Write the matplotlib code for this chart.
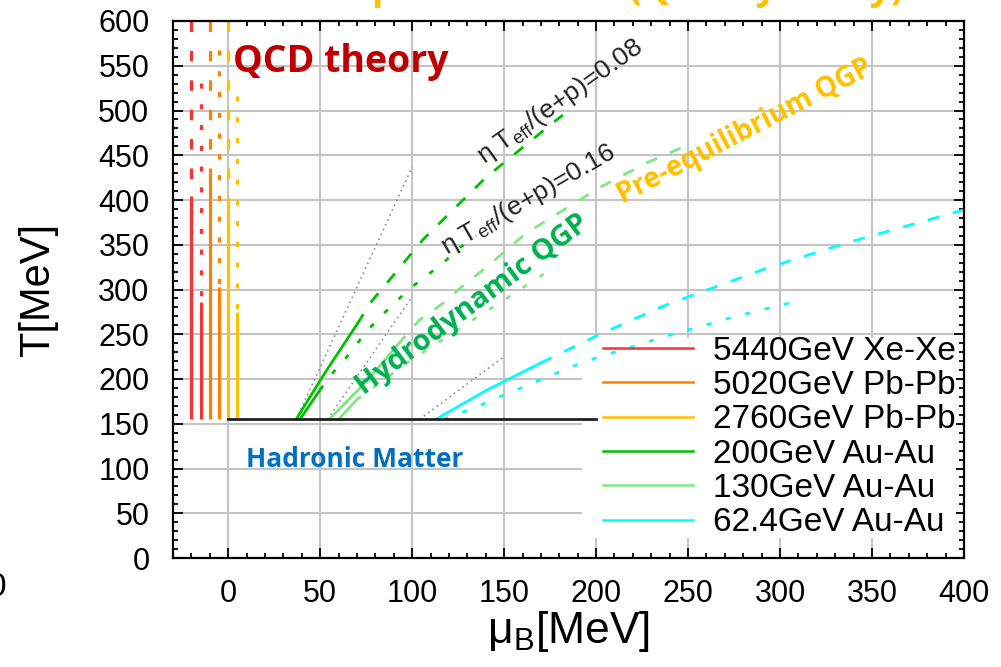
import matplotlib.pyplot as plt
from matplotlib.ticker import MultipleLocator
from matplotlib.lines import Line2D
from matplotlib.patches import Rectangle

plt.rcParams['font.family'] = ['Liberation Sans', 'DejaVu Sans']
plt.rcParams['mathtext.fontset'] = 'custom'
plt.rcParams['mathtext.rm'] = 'Liberation Sans'
plt.rcParams['mathtext.it'] = 'Liberation Sans'

# collision systems, legend order
systems = ['5440GeV Xe-Xe', '5020GeV Pb-Pb', '2760GeV Pb-Pb',
           '200GeV Au-Au', '130GeV Au-Au', '62.4GeV Au-Au']
colors = ['#ff3030', '#ff8000', '#ffc000', '#00c000', '#80e880', '#00ffff']

T_c = 155

# LHC tracks (mu_B ~ 0, drawn side by side)
lhc_mu = [[-20, -15], [-10, -5], [0, 5]]
lhc_T_hydro = [[404, 286], [430, 303], [391, 275]]
lhc_T_end = [[600, 531], [600, 568], [600, 516]]

# 200 GeV Au-Au
au200_a_mu = [37, 52, 70]
au200_a_T = [155, 205, 261]
au200_pre_a_mu = [70, 78, 87, 106, 140, 177, 182]
au200_pre_a_T = [261, 287, 309, 356, 425, 487, 495]
au200_b_mu = [39, 50]
au200_b_T = [155, 188]
au200_pre_b_mu = [50, 56, 63, 76, 84, 92, 100, 117, 126, 135]
au200_pre_b_T = [188, 205, 221, 255, 272, 288, 303, 330, 347, 360]

# 130 GeV Au-Au
au130_a_mu = [55, 76, 92]
au130_a_T = [155, 199, 238]
au130_pre_a_mu = [92, 104, 117, 127, 141, 162, 184, 202, 228, 246, 250]
au130_pre_a_T = [238, 266, 285, 303, 326, 363, 391, 414, 442, 458, 462]
au130_b_mu = [60, 70]
au130_b_T = [155, 177]
au130_pre_b_mu = [70, 100, 130, 155, 175]
au130_pre_b_T = [177, 222, 262, 295, 322]

# 62.4 GeV Au-Au
au62_a_mu = [113, 140, 170]
au62_a_T = [155, 187, 218]
au62_pre_a_mu = [170, 200, 236, 249, 293, 336, 400]
au62_pre_a_T = [218, 248, 281, 291, 324, 352, 389]
au62_pre_b_mu = [117, 134, 144, 193, 235, 276, 309]
au62_pre_b_T = [155, 168, 177, 219, 246, 270, 287]

# isentropes (grey dotted)
isen_mu = [[37, 100], [54, 100], [104, 150]]
isen_T = [[155, 437], [155, 292], [155, 225]]

# phase boundary
pb_mu = [0, 200]
pb_T = [T_c, T_c]

fig = plt.figure(figsize=(10.01, 6.67), dpi=100)
ax = fig.add_axes([173 / 1001, 1 - 558 / 667, 791 / 1001, 537 / 667])

dash_v = (0, (3.3, 5.9))
dot_v = (0, (1.6, 4.9))
dash_s = (0, (4.3, 5.0))
dot_s = (0, (1.8, 5.4))
lw_s = 2.0

for i in range(3):
    c = colors[i]
    for j in range(2):
        m = lhc_mu[i][j]
        ax.plot([m, m], [T_c, lhc_T_hydro[i][j]], color=c, lw=2.3, solid_capstyle='butt')
        # drawn top-down so the pattern starts at the upper end
        ax.plot([m, m], [lhc_T_end[i][j], lhc_T_hydro[i][j]], color=c, lw=2.3,
                linestyle=dash_v if j == 0 else dot_v, dash_capstyle='butt')

for mu, T in zip(isen_mu, isen_T):
    ax.plot(mu, T, color='#909090', lw=1.2, linestyle=(0, (1, 2.2)))

c = colors[3]
ax.plot(au200_a_mu, au200_a_T, color=c, lw=lw_s)
ax.plot(au200_pre_a_mu, au200_pre_a_T, color=c, lw=lw_s, linestyle=dash_s)
ax.plot(au200_b_mu, au200_b_T, color=c, lw=lw_s)
ax.plot(au200_pre_b_mu, au200_pre_b_T, color=c, lw=lw_s, linestyle=dot_s)

c = colors[4]
ax.plot(au130_a_mu, au130_a_T, color=c, lw=lw_s)
ax.plot(au130_pre_a_mu, au130_pre_a_T, color=c, lw=lw_s, linestyle=dash_s)
ax.plot(au130_b_mu, au130_b_T, color=c, lw=lw_s)
ax.plot(au130_pre_b_mu, au130_pre_b_T, color=c, lw=lw_s, linestyle=dot_s)

c = colors[5]
ax.plot(au62_a_mu, au62_a_T, color=c, lw=lw_s)
ax.plot(au62_pre_a_mu, au62_pre_a_T, color=c, lw=lw_s, linestyle=dash_s)
ax.plot(au62_pre_b_mu, au62_pre_b_T, color=c, lw=lw_s, linestyle=dot_s)

ax.plot(pb_mu, pb_T, color='#202020', lw=2.0, zorder=6)

ax.set_xlim(-30, 400)
ax.set_ylim(0, 600)
ax.xaxis.set_major_locator(MultipleLocator(50))
ax.xaxis.set_minor_locator(MultipleLocator(10))
ax.yaxis.set_major_locator(MultipleLocator(50))
ax.yaxis.set_minor_locator(MultipleLocator(10))
ax.grid(True, which='major', color='#c4c4c4', lw=1.5)
ax.set_axisbelow(True)
ax.tick_params(which='both', direction='in', top=True, right=True, width=1.3, color='black')
ax.tick_params(which='major', length=7)
ax.tick_params(which='minor', length=3.5)
ax.tick_params(axis='x', labelsize=22, pad=15)
ax.tick_params(axis='y', labelsize=22, pad=17)
for s in ax.spines.values():
    s.set_linewidth(1.6)

ax.set_xlabel('μ$_{\\mathrm{B}}$[MeV]', fontsize=32)
ax.xaxis.set_label_coords(0.5, -0.095)
ax.set_ylabel('T[MeV]', fontsize=30)
ax.yaxis.set_label_coords(-0.145, 0.5)

# white key area: hides the grid, curves stay on top
ax.add_patch(Rectangle((0.517, 0.037), 0.4728, 0.3725, transform=ax.transAxes,
                       facecolor='white', edgecolor='none', zorder=1))
handles = [Line2D([], [], color=c, lw=1.8) for c in colors]
ax.legend(handles, systems, loc='center left', bbox_to_anchor=(0.5436, 0.2253),
          fontsize=24, frameon=False, handlelength=2.7, handletextpad=0.6,
          labelspacing=0.1, borderpad=0, borderaxespad=0)

bold = dict(family=['Open Sans', 'DejaVu Sans'], fontweight='bold',
            ha='center', va='center', rotation_mode='anchor')
ax.text(61, 554, 'QCD theory', color='#c00000', fontsize=27, **bold)
ax.text(69, 110, 'Hadronic Matter', color='#0070c0', fontsize=19, **bold)
ax.text(132.6, 283, 'Hydrodynamic QGP', color='#00b050', fontsize=21,
        rotation=36.7, **bold)
ax.text(281, 476, 'Pre-equilibrium QGP', color='#ffc000', fontsize=20,
        rotation=27.5, **bold)

ax.text(180.4, 509.5, 'η T$_{\\mathrm{eff}}$/(e+p)=0.08', color='#222222',
        fontsize=19, rotation=35.4, ha='center', va='center', rotation_mode='anchor')
ax.text(163, 400, 'η T$_{\\mathrm{eff}}$/(e+p)=0.16', color='#222222',
        fontsize=19, rotation=30, ha='center', va='center', rotation_mode='anchor')

# pieces of neighbouring content cut off by the crop
fig.text(0.372, 1 + 1 / 667, 'phase border (QCD by study)', color='#ffc000',
         fontsize=27, family=['Open Sans', 'DejaVu Sans'], fontweight='bold',
         ha='left', va='baseline')
fig.text(0.006, 1 - 587 / 667, '0', fontsize=24, ha='right', va='center')

fig.savefig('out.png', dpi=100)
